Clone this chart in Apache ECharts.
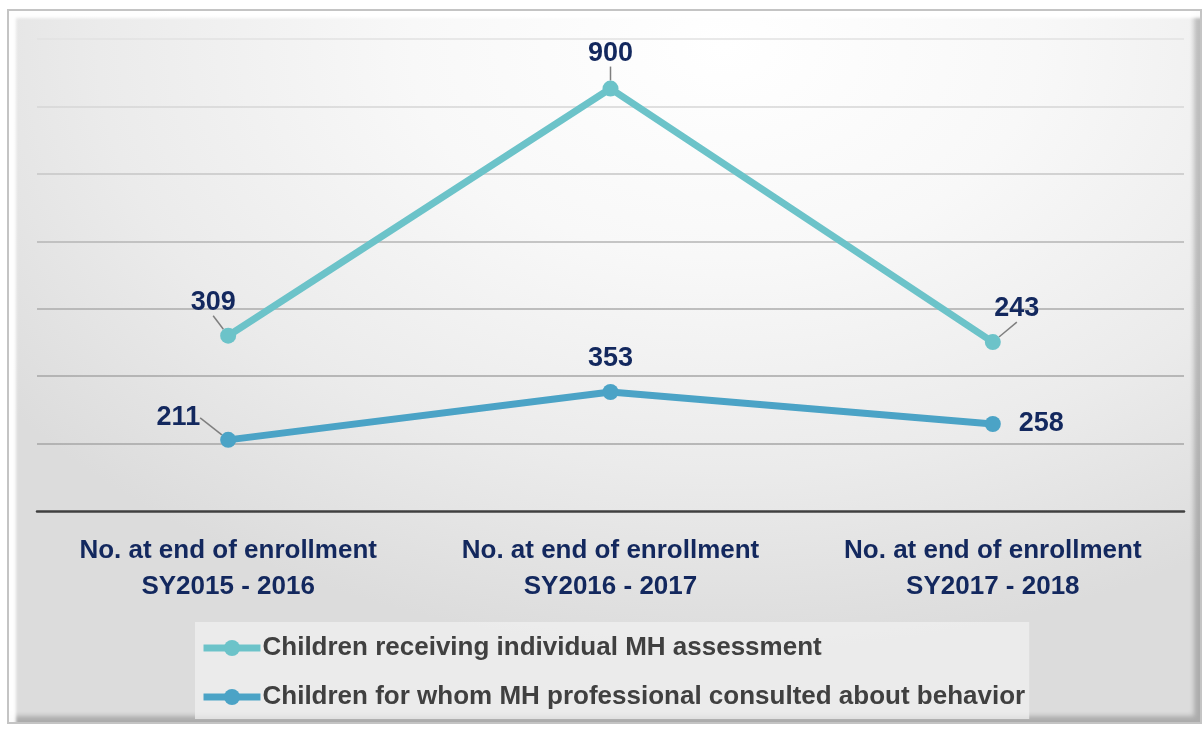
<!DOCTYPE html>
<html>
<head>
<meta charset="utf-8">
<script src="https://cdn.jsdelivr.net/npm/echarts@6/dist/echarts.min.js"></script>
<style>
html,body{margin:0;padding:0;background:#fff;}
#frame{position:absolute;left:7px;top:9px;width:1191px;height:711px;border:2px solid #c4c4c4;
  background:radial-gradient(ellipse 75% 85% at 60% 5%, #ffffff 0%, #f8f8f8 35%, #ebebeb 70%, #dcdcdc 100%);
  box-shadow: inset 7px 7px 3px rgba(255,255,255,0.95), inset -6px -6px 5px rgba(0,0,0,0.22);}
#chart{position:absolute;left:0;top:0;width:1204px;height:732px;}
</style>
</head>
<body>
<div id="frame"></div>
<div id="chart"></div>
<script>
const categories = ['No. at end of enrollment\nSY2015 - 2016', 'No. at end of enrollment\nSY2016 - 2017', 'No. at end of enrollment\nSY2017 - 2018'];
const seriesNames = ['Children receiving individual MH assessment', 'Children for whom MH professional consulted about behavior'];
const assessment = [309, 900, 243];
const consulted = [211, 353, 258];
const yTicks = [0, 200, 400, 600, 800, 1000, 1200, 1400];

const FONT = '"Liberation Sans Narrow", "Arial Narrow", "Liberation Sans", Arial, sans-serif';
const NAVY = '#13285e';

const chart = echarts.init(document.getElementById('chart'), null, {renderer: 'canvas'});

const consultedPos = ['left', 'top', 'right'];
const consultedShift = [[-14, -22], [0, -6], [12, 0]];
const consultedLine = [true, false, false];
const assessPos = ['top', 'top', 'top'];
const assessShift = [[-15, -6], [0, -8], [24, -6]];

chart.setOption({
  backgroundColor: 'transparent',
  grid: {left: 37, top: 39, width: 1147, height: 472, containLabel: false},
  xAxis: {
    type: 'category', data: categories, boundaryGap: true,
    axisLine: {show: true, lineStyle: {color: '#404040', width: 2.5}},
    axisTick: {show: false},
    axisLabel: {interval: 0, color: NAVY, fontFamily: FONT, fontWeight: 'bold', fontSize: 26, lineHeight: 36, margin: 22}
  },
  yAxis: {
    type: 'value', min: yTicks[0], max: yTicks[yTicks.length - 1], interval: 200,
    axisLine: {show: false}, axisTick: {show: false}, axisLabel: {show: false},
    splitLine: {lineStyle: {width: 1.5, color: ['transparent', '#a6a6a6', '#a6a6a6', '#ababab', '#b4b4b4', '#c6c6c6', '#d6d6d6', '#e2e2e2']}}
  },
  legend: {
    data: seriesNames, orient: 'vertical', left: 195, top: 622,
    backgroundColor: 'rgba(240,240,240,0.75)', padding: [10, 4, 6, 5],
    itemWidth: 57, itemHeight: 20, itemGap: 17,
    lineStyle: {width: 7},
    textStyle: {color: '#404040', fontFamily: FONT, fontWeight: 'bold', fontSize: 26, lineHeight: 32, padding: [0, 0, 0, -3]}
  },
  series: [
    {
      name: seriesNames[1], type: 'line', stack: 'total',
      data: consulted.map((v, i) => ({value: v, label: {position: consultedPos[i]}, labelLine: {show: consultedLine[i]}})),
      lineStyle: {color: '#4ba3c6', width: 7}, itemStyle: {color: '#4ba3c6'},
      symbol: 'circle', symbolSize: 16, z: 3,
      label: {show: true, color: NAVY, fontFamily: FONT, fontWeight: 'bold', fontSize: 27, distance: 6},
      labelLine: {show: true, lineStyle: {color: '#7f7f7f', width: 1.5}},
      labelLayout: p => ({dx: consultedShift[p.dataIndex][0], dy: consultedShift[p.dataIndex][1]})
    },
    {
      name: seriesNames[0], type: 'line', stack: 'total',
      data: assessment.map((v, i) => ({value: v, label: {position: assessPos[i]}})),
      lineStyle: {color: '#6cc3c9', width: 7}, itemStyle: {color: '#6cc3c9'},
      symbol: 'circle', symbolSize: 16, z: 3,
      label: {show: true, color: NAVY, fontFamily: FONT, fontWeight: 'bold', fontSize: 27, distance: 6},
      labelLine: {show: true, lineStyle: {color: '#7f7f7f', width: 1.5}},
      labelLayout: p => ({dx: assessShift[p.dataIndex][0], dy: assessShift[p.dataIndex][1]})
    }
  ]
});
</script>
</body>
</html>
